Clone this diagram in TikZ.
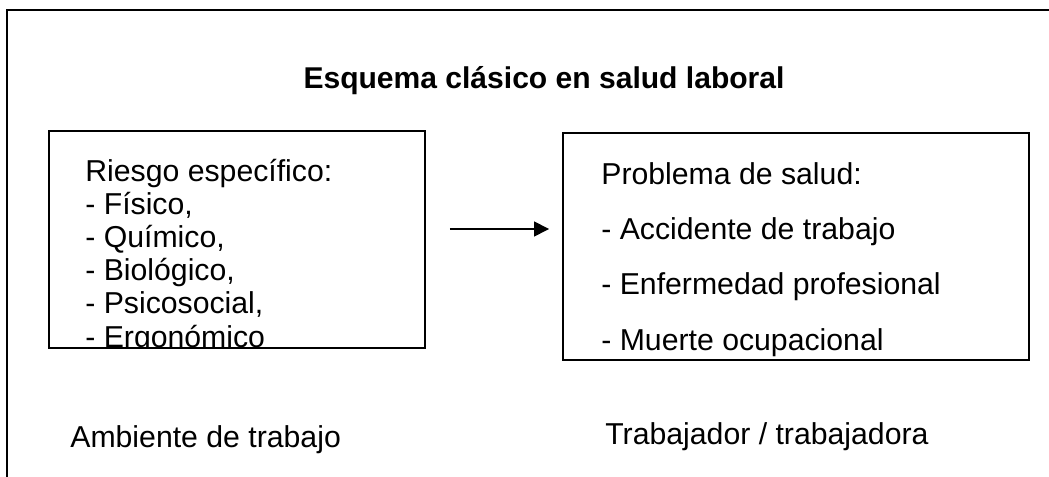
\documentclass[tikz,border=0pt]{standalone}
\usepackage{fontspec}
\setmainfont{Liberation Sans}
\usetikzlibrary{arrows.meta}
\tikzset{caja/.style={draw, line width=1.1pt, inner sep=0pt},
  texto/.style={inner sep=0pt, align=left, font=\fontsize{17.2}{18.8}\selectfont},
  flecha/.style={line width=0.9pt, -{Triangle[length=0.3cm,width=0.3cm]}}}

\begin{document}
\begin{tikzpicture}
      \useasboundingbox (0, 0) rectangle (20.98, 9.52);
      \clip (0, 0) rectangle (20.98, 9.52);
      \draw [line width=1.2pt] (0.14, -1) rectangle (22, 9.32);

      \node [texto, font=\fontsize{17.1}{18.8}\selectfont\bfseries, anchor=base] (titulo) at (10.88, 7.74) {Esquema clásico en salud laboral};

      \node [caja, minimum width=7.52cm, minimum height=4.34cm] (riesgo) at (4.74, 4.73) {};
      \node [caja, minimum width=9.32cm, minimum height=4.54cm] (problema) at (15.92, 4.59) {};

      % the last line runs into the bottom of the box
      \begin{scope}
        \clip (riesgo.south west) rectangle (riesgo.north east);
        \node [texto, anchor=base west] (riesgotxt) at (1.70, 2.58) {Riesgo específico:\\- Físico,\\- Químico,\\- Biológico,\\- Psicosocial,\\- Ergonómico};
      \end{scope}
      \node [texto, font=\fontsize{17.2}{31.3}\selectfont, anchor=base west] (problematxt) at (12.02, 2.52) {Problema de salud:\\- Accidente de trabajo\\- Enfermedad profesional\\- Muerte ocupacional};

      \coordinate (eje) at (0, 4.94);
      \draw [flecha, shorten <=0.48cm, shorten >=0.26cm] (riesgo.east |- eje) -- (problema.west |- eje);

      \node [texto, anchor=base west] (ambiente) at (1.40, 0.58) {Ambiente de trabajo};
      \node [texto, anchor=base west] (trabajador) at (12.10, 0.64) {Trabajador / trabajadora};
\end{tikzpicture}
\end{document}
